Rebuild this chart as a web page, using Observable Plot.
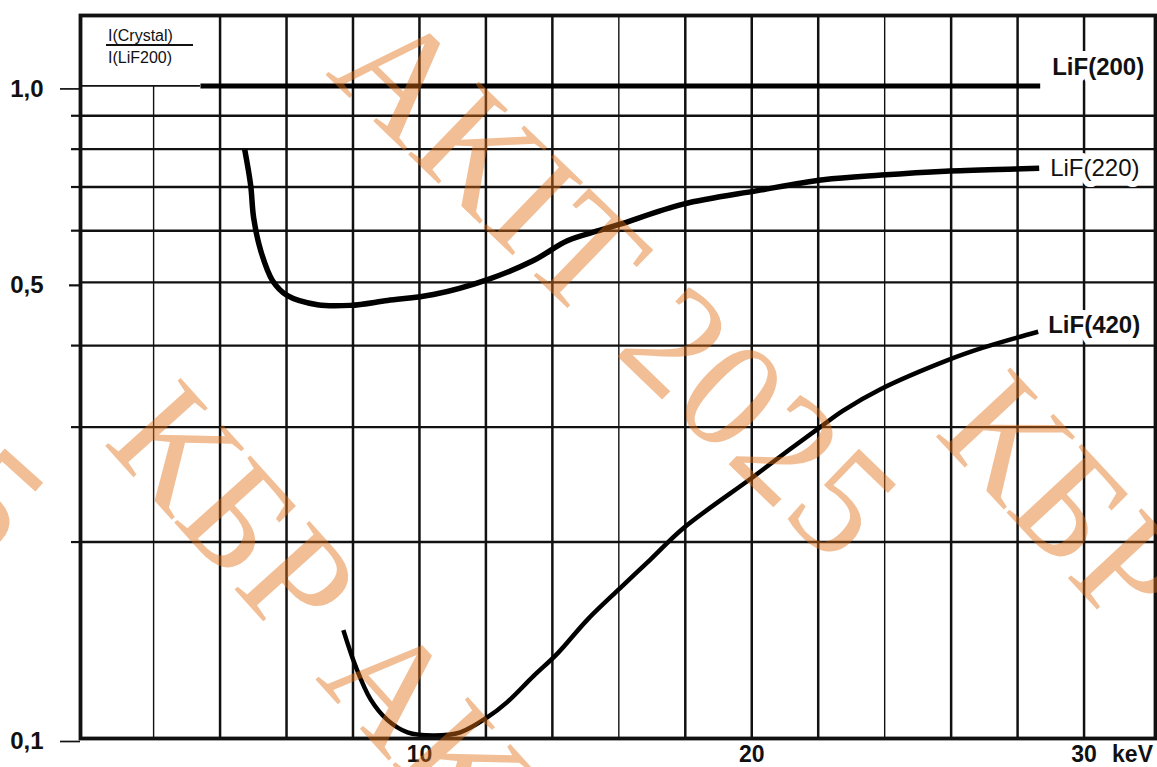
<!DOCTYPE html>
<html><head><meta charset="utf-8">
<script src="https://cdn.jsdelivr.net/npm/d3@7"></script>
<script src="https://cdn.jsdelivr.net/npm/@observablehq/plot@0.6"></script>
<style>
html,body{margin:0;padding:0;background:#fff;}
#wrap{position:relative;width:1157px;height:767px;overflow:hidden;background:#fff;}
#ratio{position:absolute;left:106px;top:27px;font:16px "Liberation Sans",Arial,sans-serif;color:#111;}
#ratio .num{width:87px;line-height:17px;border-bottom:2px solid #111;padding-left:2px;box-sizing:border-box;}
#ratio .den{line-height:18px;padding-left:2px;margin-top:3px;}
#wm{position:absolute;left:0;top:0;pointer-events:none;}
</style></head>
<body><div id="wrap"></div>
<script>
// ---- data ----
const lif200Kev = [3.41, 28.68];
const lif200Ratio = [1.0, 1.0];

const lif220Kev = [4.74, 4.92, 5.01, 5.22, 5.58, 6.03, 6.93, 7.92, 9.04, 10.42, 12.05, 13.43, 14.45, 15.44, 16.04, 17.94, 20.17, 22.15, 23.9, 25.82, 27.95, 28.65];
const lif220Ratio = [0.800, 0.705, 0.628, 0.560, 0.503, 0.477, 0.462, 0.461, 0.469, 0.479, 0.505, 0.540, 0.579, 0.601, 0.614, 0.659, 0.691, 0.718, 0.730, 0.740, 0.746, 0.748];

const lif420Kev = [7.71, 8.08, 8.53, 9.04, 9.64, 10.42, 11.23, 12.05, 12.65, 13.43, 14.15, 15.05, 16.04, 16.95, 17.94, 20.05, 21.16, 22.06, 22.75, 23.86, 25.88, 26.96, 27.98, 28.62];
const lif420Ratio = [0.1466, 0.129, 0.1148, 0.1067, 0.1022, 0.1011, 0.1022, 0.1078, 0.1138, 0.1246, 0.1349, 0.152, 0.170, 0.188, 0.2100, 0.2518, 0.2777, 0.300, 0.318, 0.3426, 0.3796, 0.397, 0.4114, 0.420];

const seriesNames = ["LiF(200)", "LiF(220)", "LiF(420)"];
const gridKev = [2, 4, 6, 8, 10, 12, 14, 16, 18, 20, 22, 24, 26, 28, 30];
const thinGridKev = [2, 16, 24];
const gridRatio = [0.9, 0.8, 0.7, 0.6, 0.5, 0.4, 0.3, 0.2];
const yTickValues = [1.0, 0.5, 0.1];
const yTickLabels = ["1,0", "0,5", "0,1"];
const xTickValues = [10, 20, 30];
const xTickLabels = ["10", "20", "30"];
const xUnit = "keV";
const ratioNumerator = "I(Crystal)";
const ratioDenominator = "I(LiF200)";
const watermarkWords = ["АКІТ 2025", "КБР", "КБР АКІТ", "2025"];

// ---- build ----
const toRows = (ks, rs) => ks.map((k, i) => ({kev: k, ratio: rs[i]}));
const lif200 = toRows(lif200Kev, lif200Ratio);
const lif220 = toRows(lif220Kev, lif220Ratio);
const lif420 = toRows(lif420Kev, lif420Ratio);
const xDomain = [-0.2, 32.15];
const ink = "#111";
const yLabel = d => yTickLabels[yTickValues.indexOf(d)];

const plot = Plot.plot({
  width: 1157, height: 767,
  marginLeft: 80, marginRight: 2, marginTop: 15, marginBottom: 29,
  x: {domain: xDomain, axis: null},
  y: {type: "log", domain: [0.1, 1.282], axis: null},
  style: {fontFamily: "'Liberation Sans', Arial, sans-serif", background: "white", color: ink, overflow: "visible"},
  marks: [
    // grid
    Plot.ruleX(gridKev.filter(k => k !== gridKev[0]), {x: d => d, stroke: ink, strokeWidth: d => thinGridKev.includes(d) ? 1.4 : 2.5}),
    Plot.ruleX([gridKev[0]], {x: d => d, y1: yTickValues[2], y2: yTickValues[0], stroke: ink, strokeWidth: 1.4}),
    Plot.ruleY(gridRatio, {y: d => d, stroke: ink, strokeWidth: 2.4}),
    Plot.ruleY([yTickValues[0]], {y: d => d, x1: xDomain[0], x2: lif200Kev[0], stroke: ink, strokeWidth: 1.7}),
    // curves
    Plot.line(lif200, {x: "kev", y: "ratio", stroke: "#000", strokeWidth: 5, strokeLinecap: "butt"}),
    Plot.line(lif220, {x: "kev", y: "ratio", stroke: "#000", strokeWidth: 5.5, curve: "catmull-rom", strokeLinecap: "butt"}),
    Plot.line(lif420, {x: "kev", y: "ratio", stroke: "#000", strokeWidth: 4.5, curve: "catmull-rom", strokeLinecap: "butt"}),
    // series labels
    Plot.text([lif200[lif200.length - 1]], {x: "kev", y: "ratio", text: () => seriesNames[0], textAnchor: "start", dx: 12, dy: -19, fontSize: 24, fontWeight: "bold", fill: ink, stroke: "white", strokeWidth: 14}),
    Plot.text([lif220[lif220.length - 1]], {x: "kev", y: "ratio", text: () => seriesNames[1], textAnchor: "start", dx: 11, dy: 0, fontSize: 24, fontWeight: 500, fill: ink, stroke: "white", strokeWidth: 12}),
    Plot.text([lif420[lif420.length - 1]], {x: "kev", y: "ratio", text: () => seriesNames[2], textAnchor: "start", dx: 10, dy: -6, fontSize: 24, fontWeight: "bold", fill: ink, stroke: "white", strokeWidth: 12}),
    // frame
    Plot.frame({stroke: ink, strokeWidth: 3.8}),
    // y axis ticks and labels
    Plot.axisY(gridRatio.filter(v => v !== yTickValues[1]), {label: null, tickSize: 9, strokeWidth: 2.2, stroke: ink, tickFormat: () => ""}),
    Plot.axisY([yTickValues[1]], {label: null, tickSize: 11, tickPadding: 26, strokeWidth: 2.2, stroke: ink, dy: 3, fontSize: 24, fontWeight: "bold", fill: ink, tickFormat: yLabel}),
    Plot.axisY([yTickValues[0], yTickValues[2]], {label: null, tickSize: 20, tickPadding: 17, strokeWidth: 1.7, stroke: ink, dy: 3, fontSize: 24, fontWeight: "bold", fill: ink, tickFormat: yLabel}),
    // x labels
    Plot.text(xTickValues, {x: d => d, text: d => xTickLabels[xTickValues.indexOf(d)], frameAnchor: "bottom", lineAnchor: "middle", dy: 16, fontSize: 23, fontWeight: "bold", fill: ink}),
    Plot.text([xUnit], {x: xTickValues[2], text: d => d, frameAnchor: "bottom", lineAnchor: "middle", textAnchor: "start", dx: 28, dy: 16, fontSize: 23, fontWeight: "bold", fill: ink})
  ]
});

const wrap = document.getElementById("wrap");
wrap.appendChild(plot);

// y-axis quantity (fraction) in the top-left corner
const ratio = document.createElement("div");
ratio.id = "ratio";
ratio.innerHTML = `<div class="num">${ratioNumerator}</div><div class="den">${ratioDenominator}</div>`;
wrap.appendChild(ratio);

// watermark overlay
const wmLayout = [
  {cx: 616, cy: 283, a: 44},
  {cx: 1066, cy: 500, a: 47},
  {cx: 368, cy: 660, a: 48},
  {cx: -95, cy: 425, a: 42}
];
const wm = d3.select(wrap).append("svg").attr("id", "wm").attr("width", 1157).attr("height", 767);
wm.selectAll("text").data(watermarkWords).join("text")
  .attr("transform", (d, i) => `translate(${wmLayout[i].cx},${wmLayout[i].cy}) rotate(${wmLayout[i].a})`)
  .attr("text-anchor", "middle")
  .attr("dominant-baseline", "central")
  .attr("font-family", "'Liberation Serif', 'DejaVu Serif', serif")
  .attr("font-size", 155)
  .attr("fill", "rgb(225,110,20)")
  .attr("fill-opacity", 0.45)
  .text(d => d);
</script>
</body></html>
